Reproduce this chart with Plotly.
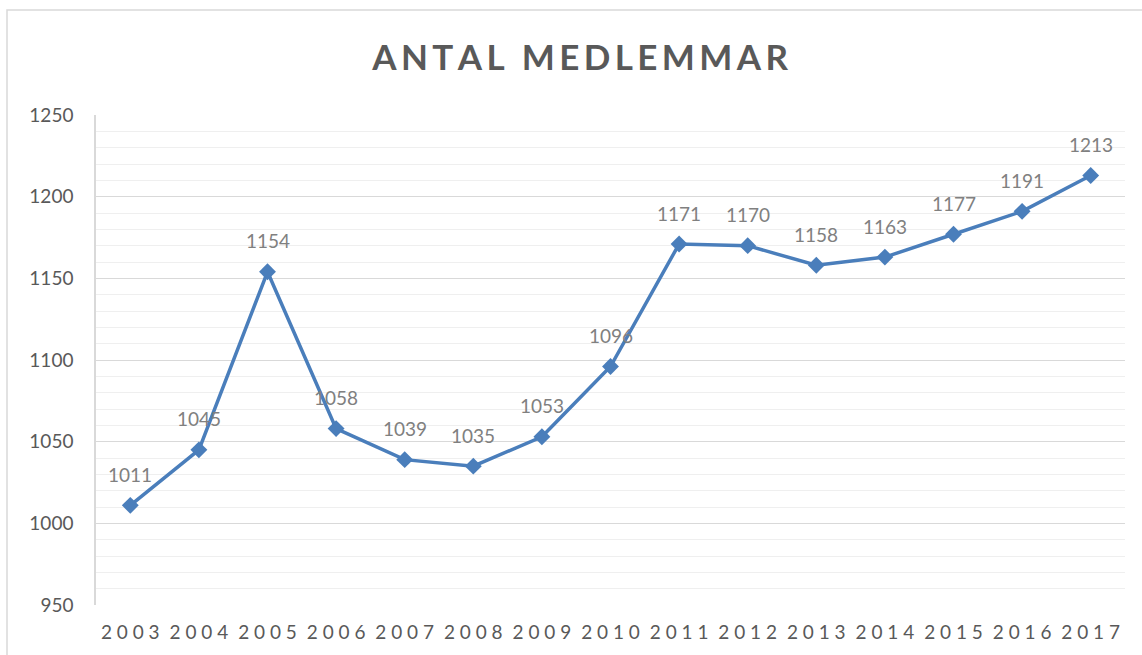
import plotly.graph_objects as go

years = ["2003", "2004", "2005", "2006", "2007", "2008", "2009", "2010",
         "2011", "2012", "2013", "2014", "2015", "2016", "2017"]
members = [1011, 1045, 1154, 1058, 1039, 1035, 1053, 1096,
           1171, 1170, 1158, 1163, 1177, 1191, 1213]
title_text = "ANTAL MEDLEMMAR"
y_ticks = [950, 1000, 1050, 1100, 1150, 1200, 1250]

def spaced(s, sp):
    return sp.join(list(s))

FONT = "Lato"
fig = go.Figure()
fig.add_trace(go.Scatter(
    x=years, y=members, mode="lines+markers",
    line=dict(color="#4a7ebb", width=3.5),
    marker=dict(symbol="diamond", size=13, color="#4a7ebb"),
    hoverinfo="x+y", showlegend=False,
))
for i, v in enumerate(members):
    fig.add_annotation(x=i, y=v, xref="x", yref="y", text=str(v), showarrow=False, yshift=31,
                       font=dict(family=FONT, size=19, color="#808080"))

W, H = 1142, 655
L, R, T, B = 96, 17, 115, 50
pw, ph = W - L - R, H - T - B
fig.add_shape(type="rect", xref="paper", yref="paper",
              x0=(7 - L) / pw, x1=(W + 20 - L) / pw,
              y0=-(B + 20) / ph, y1=(H - B - 10) / ph,
              line=dict(color="#d9d9d9", width=1.5), fillcolor="rgba(0,0,0,0)", layer="below")

fig.update_layout(
    width=W, height=H,
    margin=dict(l=L, r=R, t=T, b=B, autoexpand=False),
    paper_bgcolor="white", plot_bgcolor="white",
    title=dict(text="<b>" + spaced(title_text, "\u2009") + "</b>", x=0.508, xanchor="center",
               y=1 - 58 / H, yanchor="middle",
               font=dict(family=FONT, size=35, color="#595959")),
    xaxis=dict(type="category", categoryorder="array", categoryarray=years,
               range=[-0.5, len(years) - 0.5],
               tickvals=years, ticktext=[spaced(y, " ") for y in years],
               showgrid=False, showline=False, ticks="", zeroline=False,
               ticklabelstandoff=14,
               tickfont=dict(family=FONT, size=19, color="#595959")),
    yaxis=dict(range=[950, 1250], tickvals=y_ticks, showgrid=True, gridcolor="#d9d9d9",
               gridwidth=1.3, zeroline=False, showline=True, linecolor="#d9d9d9",
               linewidth=1.5, ticks="", ticklabelstandoff=17,
               minor=dict(dtick=10, tick0=950, showgrid=True, gridcolor="#efefef", gridwidth=1.2),
               tickfont=dict(family=FONT, size=19, color="#595959")),
)
fig.write_html("out.html", config={"displayModeBar": False},
               post_script="document.body.style.margin='0';document.body.style.overflow='hidden';")
